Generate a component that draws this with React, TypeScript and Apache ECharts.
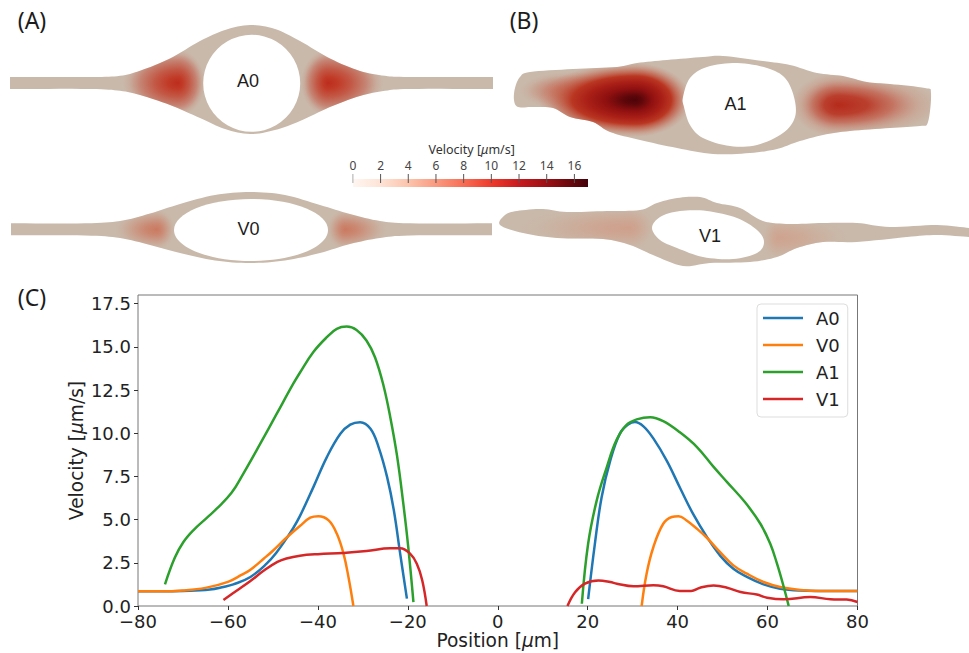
import React, { useEffect, useRef } from "react";
import * as echarts from "echarts";

type P = [number, number];

// ---- line chart data (position, velocity)
const xTicks = [-80, -60, -40, -20, 0, 20, 40, 60, 80];
const yTicks = [0, 2.5, 5, 7.5, 10, 12.5, 15, 17.5];
const a0Left: P[] = [[-80,0.85],[-75,0.85],[-70,0.87],[-64,0.95],[-61,1.1],[-58.8,1.25],[-55,1.68],[-51.4,2.45],[-49.2,3.1],[-47,3.9],[-45.5,4.5],[-44,5.2],[-41,6.88],[-38,8.62],[-35,9.97],[-32.8,10.5],[-30.6,10.64],[-28.3,10.26],[-26.5,9.2],[-24.6,7.46],[-23.1,5.53],[-21.7,3.03],[-20.2,0.43]];
const a0Right: P[] = [[20.1,0.4],[21.6,3.6],[23.1,6.3],[25,8.4],[27.2,10],[29,10.5],[30.5,10.65],[32.4,10.4],[34.6,9.7],[37.6,8.4],[40.6,6.8],[43.5,5.3],[46.5,4],[49.5,2.9],[52.4,2.15],[55.4,1.68],[59.1,1.25],[62.8,1],[67.3,0.9],[74.7,0.87],[80,0.87]];
const v0Left: P[] = [[-80,0.85],[-75,0.85],[-70,0.9],[-65,1.05],[-60,1.4],[-57,1.8],[-55,2.1],[-52,2.75],[-50,3.2],[-47,3.95],[-44,4.63],[-41.7,5.11],[-39.9,5.2],[-37.6,4.96],[-35.8,4.19],[-34.3,3.03],[-33.2,1.68],[-32.1,0]];
const v0Right: P[] = [[32,0],[33.1,1.87],[34.6,3.4],[36.8,4.76],[38.7,5.15],[40.2,5.2],[42,4.95],[44.3,4.47],[46.5,3.95],[49.5,3.1],[52.4,2.35],[55.4,1.87],[59.1,1.39],[62.8,1.1],[67.3,0.93],[71.7,0.87],[80,0.87]];
const a1Left: P[] = [[-74,1.25],[-71.8,2.8],[-69.9,3.7],[-67.7,4.38],[-64.7,5.1],[-62.5,5.63],[-59.2,6.55],[-56.6,7.65],[-52.9,9.35],[-49.2,11.1],[-45.5,12.85],[-44,13.5],[-41,14.7],[-38,15.56],[-35.8,16.04],[-33.6,16.17],[-31.4,15.98],[-29.2,15.37],[-27.3,14.4],[-25.4,12.75],[-23.9,10.93],[-22.4,8.7],[-21,5.92],[-19.9,3.41],[-18.75,0.23]];
const a1Right: P[] = [[18.7,0.13],[20.1,3.6],[22,6.1],[24.2,8],[26.4,9.6],[28.7,10.5],[30.9,10.8],[33.9,10.93],[36.8,10.7],[40.5,10.05],[44.3,9.2],[48,8.05],[51,7.17],[55,6],[58.4,4.76],[60.6,3.6],[62.1,2.45],[63.6,1.1],[64.7,0]];
const v1Left: P[] = [[-61,0.35],[-58,0.9],[-55,1.45],[-52,2.05],[-49,2.55],[-47,2.75],[-44,2.91],[-40,3],[-34.3,3.07],[-29.2,3.18],[-23.9,3.34],[-21.7,3.34],[-19.5,3.03],[-18,2.45],[-16.8,1.49],[-15.8,0]];
const v1Right: P[] = [[15.5,0],[17.2,0.8],[19.4,1.3],[22.4,1.48],[25,1.39],[26.5,1.29],[30.2,1.14],[34.6,1.2],[36.8,1.14],[40.5,0.87],[43,0.87],[45,1.06],[48,1.18],[51,1.06],[54,0.81],[57.6,0.66],[59.9,0.48],[63.6,0.39],[69.5,0.52],[74,0.39],[77.6,0.37],[80,0.23]];

// ---- colour bar
const barTicks = [0, 2, 4, 6, 8, 10, 12, 14, 16];
const barStops: [number, string][] = [[0,"#fff6f1"],[2,"#fee3d6"],[4,"#fcc4ac"],[6,"#f99a80"],[8,"#f76d54"],[10,"#ee3a2c"],[12,"#c81a1f"],[14,"#9b0f14"],[17,"#43020a"]];

// ---- vessel outlines (page pixels); a repeated point keeps a corner sharp
const a0Outline: P[] = [[10,77],[10,77],[90,77],[120,75.8],[140,70.7],[170,58.5],[200,41],[225,30],[250,25],[275,29],[300,41],[330,58.5],[360,71],[385,75.8],[410,77],[493,77],[493,77],[493,89],[493,89],[410,89],[385,90.8],[360,96],[330,107],[300,121],[275,130],[250,134],[225,129],[200,118],[170,105],[140,95],[120,90.8],[90,89],[10,89],[10,89]];
const v0Outline: P[] = [[11,223.3],[11,223.3],[85,223.3],[120,221],[150,213.5],[180,204],[215,195],[250,192],[285,195],[320,205],[350,214],[380,221],[410,223.3],[492,223.3],[492,223.3],[492,235.3],[492,235.3],[410,235.5],[380,238],[350,244],[320,253],[285,260.5],[250,263],[215,260.5],[180,253],[150,245],[120,238],[85,235.5],[11,235.3],[11,235.3]];
const a1Outline: P[] = [[515,88],[514,100],[518,107],[533,107],[553,108],[570,117],[593,122],[610,132],[640,140],[677,148],[713,154],[750,153],[777,149],[797,142],[823,135],[850,131],[890,128],[920,126],[928,122],[931,93],[925,88],[890,84],[867,82],[843,76],[817,73],[790,65],[763,61],[723,56],[703,57],[667,60],[637,63],[617,67],[573,69],[530,72],[520,77]];
const a1Hole: P[] = [[683,97],[690,78],[707,67],[737,63],[767,68],[785,78],[794,97],[795,117],[783,133],[757,145],[730,146],[703,138],[690,125],[684,107]];
const v1Outline: P[] = [[500,225],[505,215],[517,211],[543,209],[567,212],[607,211],[640,210],[657,203],[677,198],[700,197],[717,203],[740,208],[763,221],[790,224],[823,223],[857,223],[890,227],[937,225],[969,228],[969,228],[969,237],[969,237],[937,235],[907,237],[857,242],[823,242],[797,248],[777,257],[750,262],[710,263],[683,266],[653,255],[630,245],[603,239],[557,238],[523,233]];
const v1Hole: P[] = [[652,228],[660,217],[680,211],[707,211],[737,218],[757,230],[764,242],[757,253],[733,259],[703,257],[677,248],[660,240]];

const TAN = "#c9b9aa";
const FONT = "DejaVu Sans";

function densify(pts: P[], n = 8): P[] {
  const out: P[] = [];
  const m = pts.length;
  for (let i = 0; i < m; i++) {
    const p0 = pts[(i - 1 + m) % m], p1 = pts[i], p2 = pts[(i + 1) % m], p3 = pts[(i + 2) % m];
    if (p1[0] === p2[0] && p1[1] === p2[1]) continue;
    for (let k = 0; k < n; k++) {
      const t = k / n, t2 = t * t, t3 = t2 * t;
      const f = (a: number, b: number, c: number, d: number) =>
        0.5 * (2 * b + (c - a) * t + (2 * a - 5 * b + 4 * c - d) * t2 + (3 * b - a - 3 * c + d) * t3);
      out.push([f(p0[0], p1[0], p2[0], p3[0]), f(p0[1], p1[1], p2[1], p3[1])]);
    }
  }
  return out;
}

function clipHalf(pts: P[], xc: number, keepLeft: boolean): P[] {
  const inside = (p: P) => (keepLeft ? p[0] <= xc : p[0] >= xc);
  const out: P[] = [];
  for (let i = 0; i < pts.length; i++) {
    const a = pts[i], b = pts[(i + 1) % pts.length];
    if (inside(a)) out.push(a);
    if (inside(a) !== inside(b)) {
      const t = (xc - a[0]) / (b[0] - a[0]);
      out.push([xc, a[1] + t * (b[1] - a[1])]);
    }
  }
  return out;
}

function heat(outline: P[], cx: number, cy: number, rl: number, rr: number, ry: number, stops: [number, string][]) {
  const grad = () =>
    new echarts.graphic.RadialGradient(0, 0, 1, stops.map(([offset, color]) => ({ offset, color })), true);
  const piece = (keepLeft: boolean, rx: number, xc: number) => ({
    type: "polygon",
    x: cx,
    y: cy,
    scaleX: rx,
    scaleY: ry,
    silent: true,
    shape: { points: clipHalf(outline, xc, keepLeft).map(([x, y]) => [(x - cx) / rx, (y - cy) / ry]) },
    style: { fill: grad() },
  });
  return [piece(true, rl, cx), piece(false, rr, cx)];
}

const redStops = (c: string, a: string): [number, string][] => [
  [0, c], [0.18, a + "f0"], [0.42, a + "b8"], [0.68, a + "68"], [0.88, a + "18"], [1, a + "00"],
];
const softStops = (a: string): [number, string][] => [
  [0, a + "e8"], [0.3, a + "b0"], [0.6, a + "58"], [0.85, a + "14"], [1, a + "00"],
];

function label(text: string, x: number, y: number, fontSize: number, fontFamily: string, fill = "#1c1c1c") {
  return { type: "text", silent: true, style: { text, x, y, align: "center", verticalAlign: "middle", fontSize, fontFamily, fill } };
}

function buildGraphics() {
  const a0 = densify(a0Outline), v0 = densify(v0Outline), a1 = densify(a1Outline), v1 = densify(v1Outline);
  const solid = (points: P[], fill: string) => ({ type: "polygon", silent: true, shape: { points }, style: { fill } });
  const els: any[] = [
    solid(a0, TAN), solid(v0, TAN), solid(a1, TAN), solid(v1, TAN),
    ...heat(a0, 178, 83, 55, 27, 33, redStops("#bd2c1e", "#c0331f")),
    ...heat(a0, 328, 83, 27, 55, 33, redStops("#bd2c1e", "#c0331f")),
    ...heat(v0, 157, 229.5, 42, 18, 20, softStops("#cb7359")),
    ...heat(v0, 345, 229.5, 18, 42, 20, softStops("#cb7359")),
    ...heat(a1, 572, 91, 52, 50, 19, softStops("#c4553f")),
    ...heat(a1, 635, 100, 97, 56, 37, [[0, "#4d0308"], [0.12, "#5e070a"], [0.3, "#8f1010"], [0.5, "#ab2017"], [0.65, "#ba3722"], [0.8, "#c2644eb0"], [0.93, "#c8806c40"], [1, "#c8806c00"]]),
    ...heat(a1, 838, 105, 46, 100, 32, [[0, "#b52a1b"], [0.3, "#b93321e8"], [0.55, "#c1503ca8"], [0.82, "#c8806c40"], [1, "#c8806c00"]]),
    ...heat(v1, 630, 228, 110, 25, 22, softStops("#cf9d88")),
    ...heat(v1, 778, 238, 16, 70, 22, softStops("#cfa18c")),
    { type: "circle", silent: true, shape: { cx: 251.7, cy: 83.3, r: 48.5 }, style: { fill: "#fff" } },
    { type: "ellipse", silent: true, shape: { cx: 251, cy: 230, rx: 77, ry: 31 }, style: { fill: "#fff" } },
    solid(densify(a1Hole), "#fff"),
    solid(densify(v1Hole), "#fff"),
    label("A0", 248, 81, 18, "Liberation Sans"),
    label("V0", 248.5, 229, 18, "Liberation Sans"),
    label("A1", 735.5, 104, 18, "Liberation Sans"),
    label("V1", 710, 236, 18, "Liberation Sans"),
    label("(A)", 32, 20, 23, "Noto Sans"),
    label("(B)", 524, 20, 23, "Noto Sans"),
    label("(C)", 32, 297, 23, "Noto Sans"),
    { type: "rect", silent: true, shape: { x: 353, y: 179, width: 235, height: 8 },
      style: { fill: new echarts.graphic.LinearGradient(0, 0, 1, 0, barStops.map(([v, color]) => ({ offset: v / 17, color }))) } },
    { type: "text", silent: true, style: {
        x: 471.7, y: 149, align: "center", verticalAlign: "middle",
        text: "{a|Velocity [}{b|\u03bc}{a|m/s]}", fill: "#333",
        rich: {
          a: { fontSize: 12.5, fontFamily: "Noto Sans", fill: "#333" },
          b: { fontSize: 12.5, fontFamily: "Noto Sans", fontStyle: "italic", fill: "#333" },
        } } },
  ];
  for (const t of barTicks) {
    const x = 352.9 + (t * 221.5) / 16;
    els.push({ type: "line", silent: true, shape: { x1: x, y1: 174, x2: x, y2: 183 }, style: { stroke: t === 0 ? "#aaa" : "#555", lineWidth: 1 } });
    els.push(label(String(t), x, 165, 12, "Noto Sans", "#444"));
  }
  return els;
}

const tickColor = "#333";
const textColor = "#222";
const minus = (v: number) => String(v).replace("-", "\u2212");

function lineSeries(name: string, color: string, left: P[], right: P[]) {
  return {
    name, type: "line", showSymbol: false, symbol: "none", smooth: 0.4, connectNulls: false,
    lineStyle: { color, width: 2.5 }, itemStyle: { color }, clip: true,
    data: [...left, [0, null], ...right],
  };
}

const nameRich = {
  a: { fontSize: 18.6, fontFamily: FONT, color: textColor },
  b: { fontSize: 18.6, fontFamily: FONT, fontStyle: "italic", color: textColor },
};

export default function App() {
  const ref = useRef<HTMLDivElement>(null);
  useEffect(() => {
    document.body.style.margin = "0";
    document.body.style.overflow = "hidden";
    const chart = echarts.init(ref.current!, null, { renderer: "svg" });
    chart.setOption({
      animation: false,
      backgroundColor: "#fff",
      grid: { left: 138, top: 295, width: 719.5, height: 311, show: true, borderColor: "#777", borderWidth: 1, backgroundColor: "transparent" },
      xAxis: {
        type: "value", min: -80, max: 80, interval: 20, splitLine: { show: false },
        axisLine: { show: false, onZero: false },
        axisTick: { show: true, length: 4, lineStyle: { color: tickColor } },
        axisLabel: { margin: 8, fontSize: 18, lineHeight: 15, fontFamily: FONT, color: textColor, formatter: minus, customValues: xTicks },
        name: "{a|Position [}{b|\u03bc}{a|m]}", nameLocation: "middle", nameGap: 25, nameMoveOverlap: false, nameTextStyle: { rich: nameRich },
      },
      yAxis: {
        type: "value", min: 0, max: 18, interval: 2.5, splitLine: { show: false },
        axisLine: { show: false, onZero: false },
        axisTick: { show: true, length: 4, lineStyle: { color: tickColor }, customValues: yTicks },
        axisLabel: { margin: 7, fontSize: 18, lineHeight: 15, fontFamily: FONT, color: textColor, formatter: (v: number) => v.toFixed(1), customValues: yTicks },
        name: "{a|Velocity [}{b|\u03bc}{a|m/s]}", nameLocation: "middle", nameGap: 52, nameRotate: 90, nameMoveOverlap: false, nameTextStyle: { rich: nameRich },
      },
      legend: {
        show: true, orient: "vertical", left: 757, top: 304, icon: "rect", itemWidth: 40, itemHeight: 2.5, itemGap: 7, selectedMode: false,
        padding: [4, 8, 8, 6], borderColor: "#ddd", borderWidth: 1, borderRadius: 4, backgroundColor: "rgba(255,255,255,0.8)",
        textStyle: { fontSize: 18, lineHeight: 20, height: 20, fontFamily: FONT, color: textColor, padding: [0, 0, 0, 8] },
        data: ["A0", "V0", "A1", "V1"],
      },
      series: [
        lineSeries("A0", "#1f77b4", a0Left, a0Right),
        lineSeries("V0", "#ff7f0e", v0Left, v0Right),
        lineSeries("A1", "#2ca02c", a1Left, a1Right),
        lineSeries("V1", "#d62728", v1Left, v1Right),
      ],
      graphic: { elements: buildGraphics() },
    });
    return () => chart.dispose();
  }, []);
  return <div ref={ref} style={{ position: "absolute", left: 0, top: 0, width: 969, height: 653 }} />;
}
